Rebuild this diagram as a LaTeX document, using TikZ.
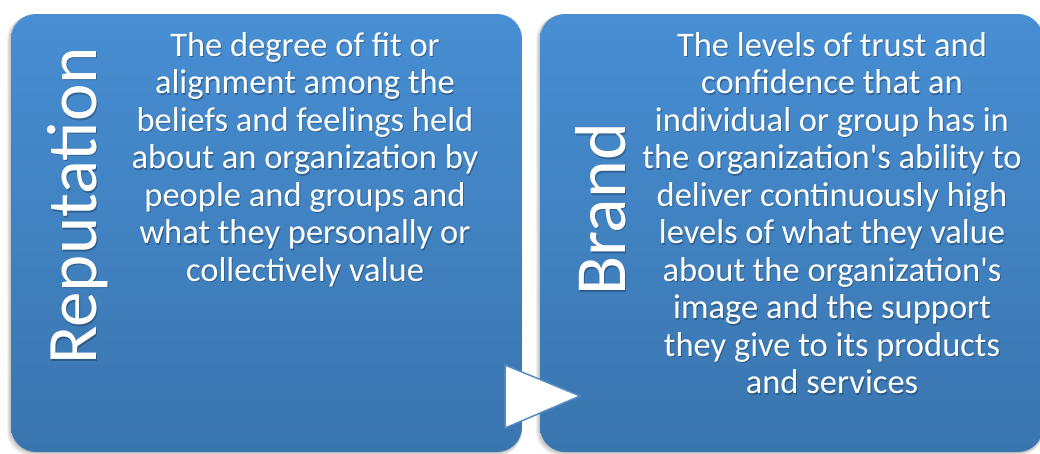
\documentclass[tikz,border=0pt]{standalone}
\usepackage{fontspec}
\setmainfont{Carlito}[Ligatures=TeXOff]
\definecolor{boxtop}{RGB}{71,142,211}
\definecolor{boxbot}{RGB}{58,117,174}
\definecolor{tridraw}{RGB}{84,140,200}
\tikzset{
  panel/.style={top color=boxtop, bottom color=boxbot, rounded corners=25pt},
  panelshadow/.style={fill=black, opacity=0.06, rounded corners=25pt},
  bodytext/.style={text=white, align=center, inner sep=0pt, anchor=north,
    font=\fontsize{34.5}{37.5}\selectfont},
  bodyshade/.style={bodytext, text=black, text opacity=0.25},
  titletext/.style={text=white, inner sep=0pt, rotate=90, anchor=base},
  titleshade/.style={titletext, text=black, text opacity=0.25},
  arrowtri/.style={fill=white, draw=tridraw, line width=1.5pt, line join=miter}
}
\newcommand{\repfont}{\fontsize{71}{73}\selectfont}
\newcommand{\brandfont}{\fontsize{72}{74}\selectfont}
\begin{document}
\begin{tikzpicture}[x=1pt,y=-1pt]
  \useasboundingbox (0,0) rectangle (1040,453);
  \fill[white] (0,0) rectangle (1040,453);
  % soft shadows under both panels
  \foreach \d in {1,2,3,4}{
    \fill[panelshadow] (11-\d,14+\d*0.3) rectangle (522,452+\d);
    \fill[panelshadow] (540-\d,14+\d*0.3) rectangle (1043,452+\d);
  }
  % the two panels
  \shade[panel] (11,14) rectangle (522,452);
  \shade[panel] (540,14) rectangle (1043,452);
  % rotated titles
  \node[titleshade, font=\repfont] at (97.5,207.5) {Reputation};
  \node[titletext, font=\repfont] (rep) at (96,206) {Reputation};
  \node[titleshade, font=\brandfont] at (626.5,211) {Brand};
  \node[titletext, font=\brandfont] (brand) at (625,209.5) {Brand};
  % panel descriptions
  \node[bodyshade] at (306,33.5) {The degree of fit or\\alignment among the\\beliefs and feelings held\\about an organization by\\people and groups and\\what they personally or\\collectively value};
  \node[bodytext] (repdesc) at (305,32) {The degree of fit or\\alignment among the\\beliefs and feelings held\\about an organization by\\people and groups and\\what they personally or\\collectively value};
  \node[bodyshade] at (833,33.5) {The levels of trust and\\confidence that an\\individual or group has in\\the organization's ability to\\deliver continuously high\\levels of what they value\\about the organization's\\image and the support\\they give to its products\\and services};
  \node[bodytext] (branddesc) at (832,32) {The levels of trust and\\confidence that an\\individual or group has in\\the organization's ability to\\deliver continuously high\\levels of what they value\\about the organization's\\image and the support\\they give to its products\\and services};
  % arrow between the panels
  \coordinate (t1) at (505,365);
  \coordinate (t2) at (580,396);
  \coordinate (t3) at (505,428);
  \draw[arrowtri] (t1) -- (t2) -- (t3) -- cycle;
\end{tikzpicture}
\end{document}
